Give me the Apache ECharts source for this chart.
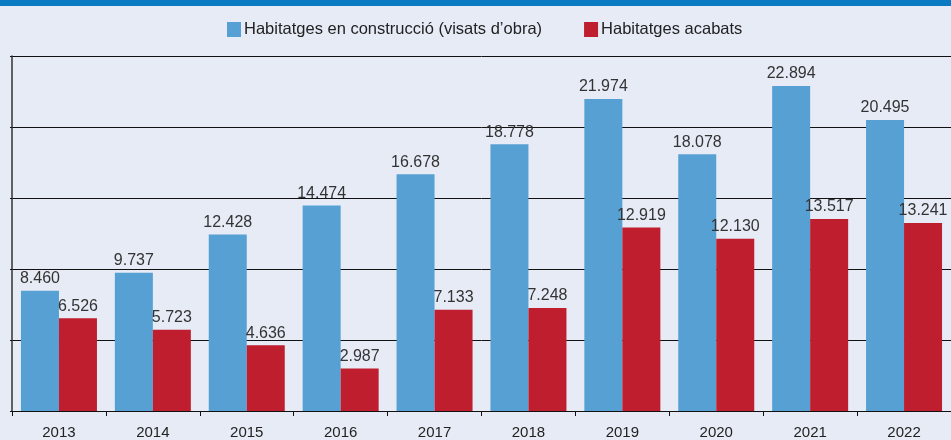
<!DOCTYPE html>
<html>
<head>
<meta charset="utf-8">
<script src="https://cdn.jsdelivr.net/npm/echarts@6/dist/echarts.min.js"></script>
<style>
  html, body { margin: 0; padding: 0; background: #e6ebf6; }
  #chart { width: 951px; height: 440px; }
</style>
</head>
<body>
<div id="chart"></div>
<script>
// dades
const years = ['2013', '2014', '2015', '2016', '2017', '2018', '2019', '2020', '2021', '2022']
const enConstruccio = [8460, 9737, 12428, 14474, 16678, 18778, 21974, 18078, 22894, 20495]
const acabats = [6526, 5723, 4636, 2987, 7133, 7248, 12919, 12130, 13517, 13241]
const seriesNames = ['Habitatges en construcció (visats d’obra)', 'Habitatges acabats']

const font = '"Liberation Sans Narrow", "Liberation Sans", Arial, sans-serif'

function fmt(v) {
  // separador de milers amb punt
  return String(v).replace(/\B(?=(\d{3})+(?!\d))/g, '.')
}

let chart = echarts.init(document.getElementById('chart'))
chart.setOption({
  backgroundColor: '#e6ebf6',
  animation: false,
  color: ['#57a0d3', '#be1e2d'],
  graphic: [
    {
      type: 'rect',
      left: 0,
      top: 0,
      shape: { width: 951, height: 6 },
      style: { fill: '#0a7bc2' },
    },
  ],
  legend: {
    data: seriesNames,
    top: 16,
    left: 222,
    itemWidth: 14,
    itemHeight: 15,
    itemGap: 42,
    icon: 'rect',
    textStyle: {
      fontFamily: font,
      fontSize: 16.5,
      color: '#222',
      padding: [0, 0, 0, -2],
    },
  },
  grid: {
    left: 12,
    top: 56,
    width: 945,
    height: 355,
  },
  xAxis: {
    type: 'category',
    data: years,
    axisLine: { lineStyle: { color: '#111', width: 1 } },
    axisTick: { show: true, length: 5, lineStyle: { color: '#111' } },
    axisLabel: {
      margin: 14,
      fontFamily: font,
      fontSize: 15,
      color: '#222',
    },
  },
  yAxis: {
    type: 'value',
    min: 0,
    max: 25000,
    interval: 5000,
    axisLine: { show: true, lineStyle: { color: '#333', width: 1.5 } },
    axisTick: { show: true, length: 2, lineStyle: { color: '#111' } },
    axisLabel: { show: false },
    splitLine: { show: true, lineStyle: { color: '#111', width: 1 } },
  },
  series: [
    {
      name: seriesNames[0],
      type: 'bar',
      data: enConstruccio,
      barWidth: 38,
      barGap: '0%',
      label: {
        show: true,
        position: 'top',
        distance: 4,
        formatter: (p) => fmt(p.value),
        fontFamily: font,
        fontSize: 16,
        color: '#333',
      },
    },
    {
      name: seriesNames[1],
      type: 'bar',
      data: acabats,
      barWidth: 38,
      barGap: '0%',
      label: {
        show: true,
        position: 'top',
        distance: 4,
        formatter: (p) => fmt(p.value),
        fontFamily: font,
        fontSize: 16,
        color: '#333',
      },
    },
  ],
})
</script>
</body>
</html>
